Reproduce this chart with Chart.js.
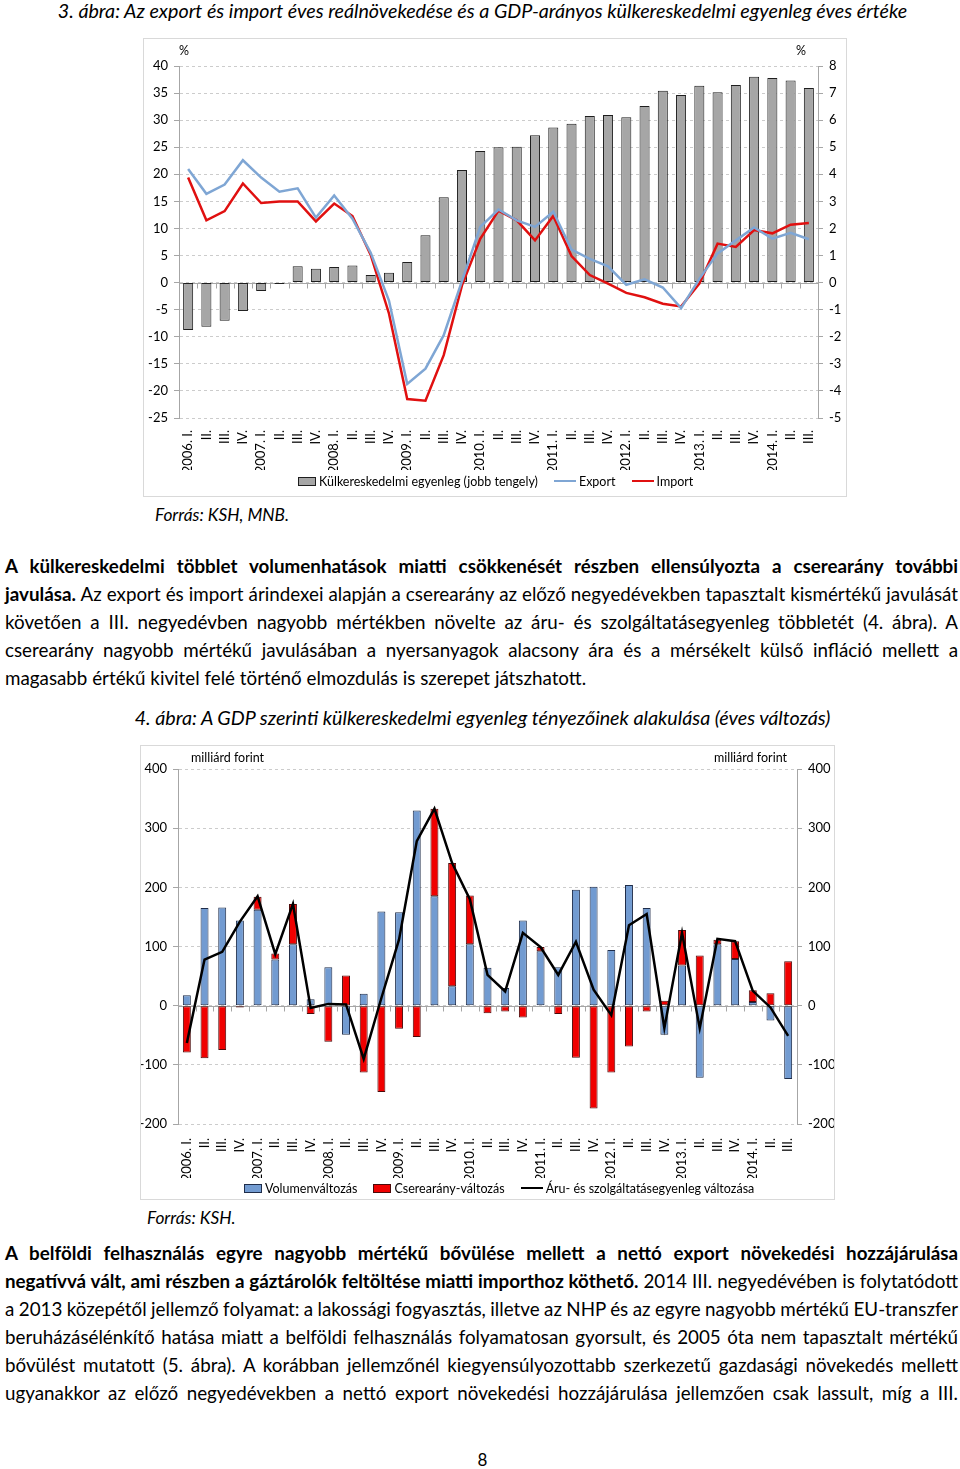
<!DOCTYPE html>
<html><head><meta charset="utf-8">
<script src="https://cdn.jsdelivr.net/npm/chart.js@4.4.1/dist/chart.umd.min.js"></script>
<style>
html,body{margin:0;padding:0;background:#fff;}
body{width:960px;height:1469px;position:relative;font-family:Lato,'Open Sans',sans-serif;color:#000;overflow:hidden;}
.title{position:absolute;font-style:italic;font-size:19.7px;line-height:22px;white-space:nowrap;left:0;width:965px;text-align:center;}
.box{position:absolute;border:1px solid #d9d9d9;box-sizing:border-box;background:#fff;}
.box canvas{display:block;}
.src{position:absolute;font-style:italic;font-size:17.3px;line-height:20px;white-space:nowrap;}
.para{position:absolute;left:5px;width:953px;font-size:18.8px;line-height:28px;}
.ln{white-space:nowrap;height:28px;}
.ln span{display:inline-block;}
.pg{position:absolute;left:0;width:965px;text-align:center;font-size:17px;line-height:20px;}
.lg{position:absolute;display:flex;align-items:center;height:16px;font-size:12.5px;white-space:nowrap;}
.lg .it{display:flex;align-items:center;margin-right:16px;}
.lg .bx{width:18px;height:9px;box-sizing:border-box;margin-right:3px;}
.lg .lnw{width:22px;height:2.5px;margin-right:3px;}
</style></head>
<body>
<div class="title" style="top:0px;">3. ábra: Az export és import éves reálnövekedése és a GDP-arányos külkereskedelmi egyenleg éves értéke</div>
<div class="box" style="left:143px;top:38px;width:704px;height:459px;"><canvas id="c1"></canvas></div>
<div class="lg" id="lg1" style="left:298px;top:473px;"></div>
<div class="src" style="left:155px;top:505px;">Forrás: KSH, MNB.</div>

<div class="para" style="top:552px;">
<div class="ln j"><span><b>A külkereskedelmi többlet volumenhatások miatti csökkenését részben ellensúlyozta a cserearány további</b></span></div>
<div class="ln j"><span><b>javulása.</b> Az export és import árindexei alapján a cserearány az előző negyedévekben tapasztalt kismértékű javulását</span></div>
<div class="ln j"><span>követően a III. negyedévben nagyobb mértékben növelte az áru- és szolgáltatásegyenleg többletét (4. ábra). A</span></div>
<div class="ln j"><span>cserearány nagyobb mértékű javulásában a nyersanyagok alacsony ára és a mérsékelt külső infláció mellett a</span></div>
<div class="ln"><span>magasabb értékű kivitel felé történő elmozdulás is szerepet játszhatott.</span></div>
</div>

<div class="title" style="top:707px;">4. ábra: A GDP szerinti külkereskedelmi egyenleg tényezőinek alakulása (éves változás)</div>
<div class="box" style="left:140px;top:745px;width:695px;height:455px;"><canvas id="c2"></canvas></div>
<div class="lg" id="lg2" style="left:244px;top:1180px;"></div>
<div class="src" style="left:147px;top:1208px;">Forrás: KSH.</div>

<div class="para" style="top:1239px;">
<div class="ln j"><span><b>A belföldi felhasználás egyre nagyobb mértékű bővülése mellett a nettó export növekedési hozzájárulása</b></span></div>
<div class="ln j"><span><b>negatívvá vált, ami részben a gáztárolók feltöltése miatti importhoz köthető.</b> 2014 III. negyedévében is folytatódott</span></div>
<div class="ln j"><span>a 2013 közepétől jellemző folyamat: a lakossági fogyasztás, illetve az NHP és az egyre nagyobb mértékű EU-transzfer</span></div>
<div class="ln j"><span>beruházásélénkítő hatása miatt a belföldi felhasználás folyamatosan gyorsult, és 2005 óta nem tapasztalt mértékű</span></div>
<div class="ln j"><span>bővülést mutatott (5. ábra). A korábban jellemzőnél kiegyensúlyozottabb szerkezetű gazdasági növekedés mellett</span></div>
<div class="ln j"><span>ugyanakkor az előző negyedévekben a nettó export növekedési hozzájárulása jellemzően csak lassult, míg a III.</span></div>
</div>
<div class="pg" style="top:1450px;">8</div>

<script>
// ---------- data ----------
const quarters = ["2006. I.","II.","III.","IV.","2007. I.","II.","III.","IV.","2008. I.","II.","III.","IV.",
  "2009. I.","II.","III.","IV.","2010. I.","II.","III.","IV.","2011. I.","II.","III.","IV.",
  "2012. I.","II.","III.","IV.","2013. I.","II.","III.","IV.","2014. I.","II.","III."];

// Chart 3: trade balance (% of GDP, right axis), export / import real growth (%)
const tradeBalance = [-1.75,-1.63,-1.41,-1.05,-0.31,-0.05,0.60,0.51,0.58,0.63,0.28,0.36,
  0.76,1.75,3.15,4.16,4.86,5.00,5.02,5.44,5.73,5.87,6.15,6.19,
  6.11,6.52,7.09,6.93,7.27,7.03,7.30,7.60,7.56,7.46,7.19];
const exportGrowth = [21.0,16.4,18.1,22.6,19.4,16.8,17.4,12.0,16.1,11.8,5.5,-3.3,
  -18.7,-15.9,-9.7,0.3,10.3,13.5,11.5,10.3,13.1,6.1,4.4,3.0,
  -0.4,0.6,-0.9,-4.7,0.7,5.4,7.8,10.2,8.1,9.2,8.0];
const importGrowth = [19.4,11.5,13.2,18.3,14.7,15.0,15.0,11.3,14.6,12.3,5.1,-5.7,
  -21.5,-21.8,-13.4,-0.5,8.1,13.3,11.5,7.8,12.3,4.9,1.4,-0.2,
  -1.9,-2.7,-3.9,-4.4,-0.2,7.2,6.6,9.7,9.1,10.7,11.0];

// Chart 4: volume effect, terms-of-trade effect, goods & services balance change (billion HUF)
const volumeChange = [17.5,165,166,144,162,78,104,11,65,-49,20,159,
  158,330,185,33,104,64,30,144,92,65,196,201,
  94,204,165,-49,68,-122,104,79,6,-25,-124];
const termsOfTradeChange = [-79,-89,-75,-3,22,10,68,-14,-61,51,-113,-146,
  -39,-53,148,208,82,-13,-10,-20,7,-14,-88,-174,
  -113,-69,-10,8.5,60,85,7.5,30,20,21,75];
const balanceChange = [-63,78,91,142,185,87,172,-4,3,2,-90,13,
  112,278,333,241,180,52,24,123,99,52,108,27,
  -16,136,155,-38,123,-38,113,109,25,-3,-51];

const leftTicks1 = {min:-25, max:40, step:5};
const rightTicks1 = {min:-5, max:8, step:1};
const ticks2 = {min:-200, max:400, step:100};

// ---------- helpers ----------
const FONT = 'Lato, "Open Sans", sans-serif';
const AXIS = '#a6a6a6';
const GRID = '#cccccc';

const zeroAxis = {
  id:'zeroAxis',
  beforeDatasetsDraw(chart){
    const {ctx, chartArea:a, scales:{y}} = chart;
    const y0 = Math.round(y.getPixelForValue(0)) + 0.5;
    const n = chart.data.labels.length;
    ctx.save();
    ctx.strokeStyle = AXIS; ctx.lineWidth = 1;
    ctx.beginPath();
    ctx.moveTo(a.left, y0); ctx.lineTo(a.right, y0);
    for (let i = 0; i <= n; i++) {
      const xp = Math.round(a.left + (a.right - a.left) * i / n) + 0.5;
      ctx.moveTo(xp, y0); ctx.lineTo(xp, y0 + 5);
    }
    ctx.stroke();
    ctx.restore();
  }
};
const unitLabels = {
  id:'unitLabels',
  afterDraw(chart, args, o){
    const {ctx, chartArea:a} = chart;
    ctx.save();
    ctx.font = '12.5px ' + FONT; ctx.fillStyle = '#000'; ctx.textBaseline = 'middle';
    ctx.textAlign = 'left'; ctx.fillText(o.left, a.left + o.lx, a.top - o.dy);
    ctx.textAlign = 'right'; ctx.fillText(o.right, a.right - o.rx, a.top - o.dy);
    ctx.restore();
  }
};

const tickFont = {size:13, family:FONT};

function buildLegend(chart, id){
  const el = document.getElementById(id);
  chart.data.datasets.forEach(ds=>{
    const it = document.createElement('div'); it.className = 'it';
    const sw = document.createElement('div');
    if (ds.type === 'line') { sw.className = 'lnw'; sw.style.background = ds.borderColor; }
    else { sw.className = 'bx'; sw.style.background = ds.backgroundColor; sw.style.border = '1px solid ' + ds.borderColor; }
    const tx = document.createElement('span'); tx.textContent = ds.label;
    it.appendChild(sw); it.appendChild(tx); el.appendChild(it);
  });
}

// ---------- chart 3 ----------
const ch1 = new Chart(document.getElementById('c1'), {
  type:'bar',
  data:{labels:quarters, datasets:[
    {type:'bar', label:'Külkereskedelmi egyenleg (jobb tengely)', data:tradeBalance, yAxisID:'y2',
     backgroundColor:'#a6a6a6', borderColor:'#1e1e1e', borderWidth:1, borderSkipped:false,
     barPercentage:0.55, categoryPercentage:1, order:1},
    {type:'line', label:'Export', data:exportGrowth, yAxisID:'y', borderColor:'#7fa6d4',
     borderWidth:2.5, pointRadius:0, tension:0, order:0},
    {type:'line', label:'Import', data:importGrowth, yAxisID:'y', borderColor:'#e01010',
     borderWidth:2.5, pointRadius:0, tension:0, order:0}
  ]},
  options:{
    responsive:true, maintainAspectRatio:false, animation:false,
    layout:{padding:{top:27, left:0, right:0, bottom:26}},
    plugins:{legend:{display:false}, tooltip:{enabled:false},
      unitLabels:{left:'%', right:'%', lx:0, rx:12, dy:15}},
    scales:{
      x:{grid:{display:false}, border:{display:false},
         ticks:{autoSkip:false, maxRotation:90, minRotation:90, padding:4, font:tickFont, color:'#000'},
         afterFit(s){ s.height = 52; }},
      y:{position:'left', min:leftTicks1.min, max:leftTicks1.max,
         ticks:{stepSize:leftTicks1.step, font:tickFont, color:'#000', padding:6},
         grid:{color:GRID, tickColor:AXIS, tickLength:5},
         border:{display:true, color:AXIS, dash:[3,3]},
         afterFit(s){ s.width = 35; }},
      y2:{position:'right', min:rightTicks1.min, max:rightTicks1.max,
         ticks:{stepSize:rightTicks1.step, font:tickFont, color:'#000', padding:6},
         grid:{drawOnChartArea:false, tickColor:AXIS, tickLength:5},
         border:{display:true, color:AXIS},
         afterFit(s){ s.width = 28; }}
    }
  },
  plugins:[zeroAxis, unitLabels]
});
buildLegend(ch1, 'lg1');

// ---------- chart 4 ----------
const ch2 = new Chart(document.getElementById('c2'), {
  type:'bar',
  data:{labels:quarters, datasets:[
    {type:'bar', label:'Volumenváltozás', data:volumeChange, yAxisID:'y',
     backgroundColor:'#729bd1', borderColor:'#1f2d4a', borderWidth:1, borderSkipped:false,
     barPercentage:0.45, categoryPercentage:1, order:1},
    {type:'bar', label:'Cserearány-változás', data:termsOfTradeChange, yAxisID:'y',
     backgroundColor:'#f00000', borderColor:'#4a0a0a', borderWidth:1, borderSkipped:false,
     barPercentage:0.45, categoryPercentage:1, order:1},
    {type:'line', label:'Áru- és szolgáltatásegyenleg változása', data:balanceChange, yAxisID:'y',
     borderColor:'#000', borderWidth:2.5, pointRadius:0, tension:0, order:0}
  ]},
  options:{
    responsive:true, maintainAspectRatio:false, animation:false,
    layout:{padding:{top:23, left:0, right:0, bottom:21}},
    plugins:{legend:{display:false}, tooltip:{enabled:false},
      unitLabels:{left:'milliárd forint', right:'milliárd forint', lx:13, rx:10, dy:11}},
    scales:{
      x:{stacked:true, grid:{display:false}, border:{display:false},
         ticks:{autoSkip:false, maxRotation:90, minRotation:90, padding:6, font:tickFont, color:'#000'},
         afterFit(s){ s.height = 54; }},
      y:{stacked:true, position:'left', min:ticks2.min, max:ticks2.max,
         ticks:{stepSize:ticks2.step, font:tickFont, color:'#000', padding:6},
         grid:{color:GRID, tickColor:AXIS, tickLength:5},
         border:{display:true, color:AXIS, dash:[3,3]},
         afterFit(s){ s.width = 37; }},
      y2:{position:'right', min:ticks2.min, max:ticks2.max,
         ticks:{stepSize:ticks2.step, font:tickFont, color:'#000', padding:6},
         grid:{drawOnChartArea:false, tickColor:AXIS, tickLength:5},
         border:{display:true, color:AXIS},
         afterFit(s){ s.width = 37; }}
    }
  },
  plugins:[zeroAxis, unitLabels]
});
buildLegend(ch2, 'lg2');

// ---------- justify text lines ----------
function justify(){
  document.querySelectorAll('.ln.j').forEach(el=>{
    el.style.wordSpacing = '0px';
    const span = el.firstElementChild;
    const w = span.getBoundingClientRect().width;
    const n = (el.textContent.match(/ /g)||[]).length;
    if (n) el.style.wordSpacing = ((953 - w) / n) + 'px';
  });
}
justify();
if (document.fonts && document.fonts.ready) document.fonts.ready.then(justify);
</script>
</body></html>
